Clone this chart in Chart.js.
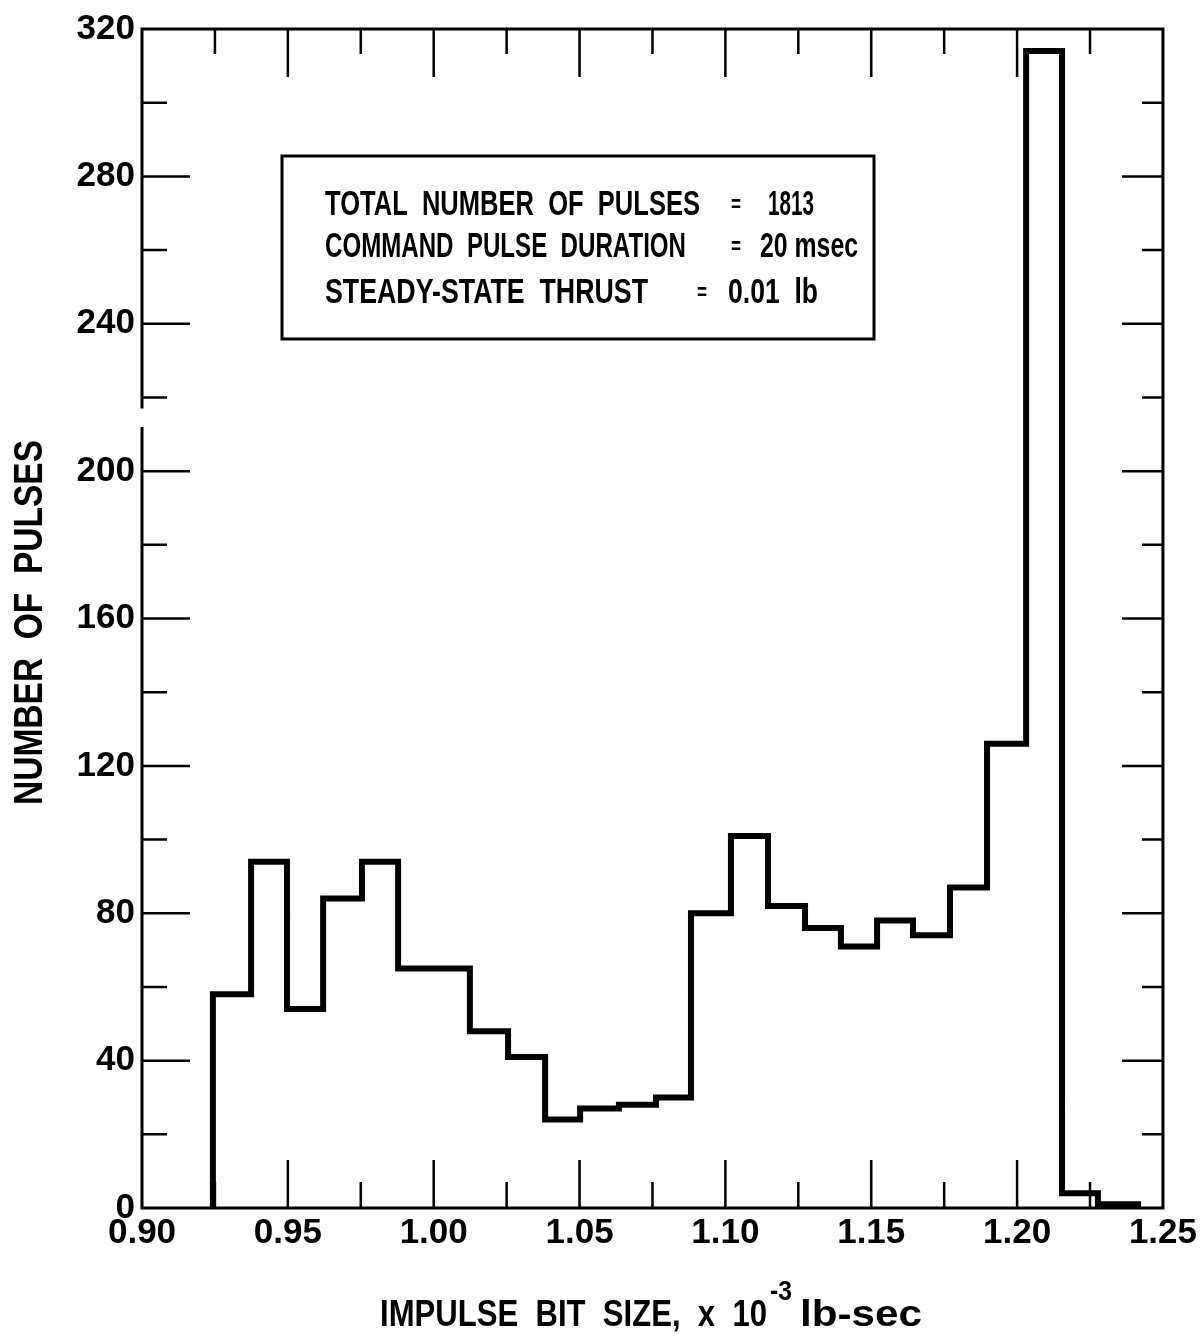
<!DOCTYPE html>
<html lang="en">
<head>
<meta charset="UTF-8" />
<title>Impulse bit size distribution</title>
<script src="https://cdn.jsdelivr.net/npm/chart.js"></script>
<style>
  html, body { margin: 0; padding: 0; background: #fff; }
  #wrap { width: 1201px; height: 1341px; }
</style>
</head>
<body>
<div id="wrap"><canvas id="histChart" width="1201" height="1341"></canvas></div>
<script>
// bin edges (x 10^-3 lb-sec) and counts
const binEdges = [0.9243, 0.9374, 0.9497, 0.9621, 0.9754, 0.9878, 0.9998, 1.0124, 1.0255,
  1.0382, 1.0502, 1.0635, 1.0762, 1.0882, 1.1019, 1.1146, 1.1273, 1.1396, 1.1520,
  1.1643, 1.1770, 1.1897, 1.2031, 1.2154, 1.2277, 1.2415];
const pulseCounts = [58, 94, 54, 84, 94, 65, 65, 48, 41, 24, 27, 28, 30, 80, 101, 82,
  76, 71, 78, 74, 87, 126, 314, 4, 1];

const xTickValues = [0.90, 0.925, 0.95, 0.975, 1.00, 1.025, 1.05, 1.075, 1.10, 1.125,
  1.15, 1.175, 1.20, 1.225, 1.25];
const xTickLabels = ['0.90', '', '0.95', '', '1.00', '', '1.05', '', '1.10', '',
  '1.15', '', '1.20', '', '1.25'];
const yTickValues = [0, 20, 40, 60, 80, 100, 120, 140, 160, 180, 200, 220, 240, 260, 280, 300, 320];
const yTickLabels = ['0', '', '40', '', '80', '', '120', '', '160', '', '200', '', '240', '', '280', '', '320'];

const infoLines = [
  ['TOTAL  NUMBER  OF  PULSES', '1813'],
  ['COMMAND  PULSE  DURATION', '20 msec'],
  ['STEADY-STATE  THRUST', '0.01  lb']
];

// outline of the histogram: up at the first edge, step along, down at the last edge
const outline = [{ x: binEdges[0], y: 0 }];
pulseCounts.forEach((c, i) => outline.push({ x: binEdges[i], y: c }));
outline.push({ x: binEdges[binEdges.length - 1], y: 0 });

const FONT = '"Liberation Sans", Arial, sans-serif';

// draws text squeezed/stretched to a given width (the original uses narrow lettering)
function fitText(ctx, str, x, yMid, size, width) {
  ctx.save();
  ctx.font = 'bold ' + size + 'px ' + FONT;
  ctx.textBaseline = 'middle';
  ctx.textAlign = 'left';
  const w = ctx.measureText(str).width;
  ctx.translate(x, yMid);
  ctx.scale(width / w, 1);
  ctx.fillText(str, 0, 0);
  ctx.restore();
}

const framePlugin = {
  id: 'frame',
  afterDraw(chart) {
    const ctx = chart.ctx;
    const ca = chart.chartArea;
    const xs = chart.scales.x, ys = chart.scales.y;
    ctx.save();
    ctx.strokeStyle = '#000';
    ctx.fillStyle = '#000';
    ctx.lineCap = 'butt';

    // frame, with the small break in the left axis
    ctx.lineWidth = 3;
    ctx.beginPath();
    ctx.moveTo(ca.left, ys.getPixelForValue(212));
    ctx.lineTo(ca.left, ca.bottom);
    ctx.lineTo(ca.right, ca.bottom);
    ctx.lineTo(ca.right, ca.top);
    ctx.lineTo(ca.left, ca.top);
    ctx.lineTo(ca.left, ys.getPixelForValue(217));
    ctx.stroke();

    // inward tick marks on all four sides
    ctx.lineWidth = 2.5;
    ctx.beginPath();
    xTickValues.forEach((v, i) => {
      if (i === 0 || i === xTickValues.length - 1) return;
      const px = xs.getPixelForValue(v);
      const major = xTickLabels[i] !== '';
      ctx.moveTo(px, ca.bottom);
      ctx.lineTo(px, ca.bottom - (major ? 48 : 26));
      ctx.moveTo(px, ca.top);
      ctx.lineTo(px, ca.top + (major ? 48 : 25));
    });
    yTickValues.forEach((v, i) => {
      if (i === 0 || i === yTickValues.length - 1) return;
      const py = ys.getPixelForValue(v);
      const major = yTickLabels[i] !== '';
      ctx.moveTo(ca.left, py);
      ctx.lineTo(ca.left + (major ? 48 : 25), py);
      ctx.moveTo(ca.right, py);
      ctx.lineTo(ca.right - (major ? 41 : 21), py);
    });
    ctx.stroke();

    // info box
    ctx.lineWidth = 3;
    ctx.strokeRect(282, 156, 592, 183);
    const rows = [
      { y: 205, l: 700, eq: 736, v0: 768, v1: 814 },
      { y: 247, l: 686, eq: 736, v0: 760, v1: 858 },
      { y: 293, l: 648, eq: 702, v0: 728, v1: 818 }
    ];
    infoLines.forEach((ln, i) => {
      const r = rows[i];
      fitText(ctx, ln[0], 325, r.y, 35, r.l - 325);
      fitText(ctx, '=', r.eq - 5, r.y, 24, 10);
      fitText(ctx, ln[1], r.v0, r.y, 35, r.v1 - r.v0);
    });

    // axis titles
    fitText(ctx, 'IMPULSE  BIT  SIZE,  x  10', 380, 1316, 37, 387);
    fitText(ctx, '-3', 770, 1293, 27, 22);
    fitText(ctx, 'lb-sec', 800, 1316, 37, 122);

    ctx.save();
    ctx.translate(31, 805);
    ctx.rotate(-Math.PI / 2);
    fitText(ctx, 'NUMBER  OF  PULSES', 0, 0, 40, 365);
    ctx.restore();

    ctx.restore();
  }
};

new Chart(document.getElementById('histChart').getContext('2d'), {
  type: 'line',
  data: {
    datasets: [{
      data: outline,
      stepped: 'before',
      borderColor: '#000',
      borderWidth: 6,
      borderJoinStyle: 'miter',
      pointRadius: 0,
      fill: false
    }]
  },
  options: {
    responsive: false,
    animation: false,
    layout: { padding: { top: 29, right: 38, left: 0, bottom: 0 } },
    plugins: { legend: { display: false }, tooltip: { enabled: false } },
    scales: {
      x: {
        type: 'linear', min: 0.90, max: 1.25,
        afterBuildTicks: s => { s.ticks = xTickValues.map(v => ({ value: v })); },
        afterFit: s => { s.height = 133; },
        grid: { display: false, drawTicks: false },
        border: { display: false },
        ticks: {
          autoSkip: false, maxRotation: 0, padding: 4, color: '#000',
          font: { family: FONT, weight: 'bold', size: 35 },
          callback: (v, i) => xTickLabels[i]
        }
      },
      y: {
        min: 0, max: 320,
        afterBuildTicks: s => { s.ticks = yTickValues.map(v => ({ value: v })); },
        afterFit: s => { s.width = 142; },
        grid: { display: false, drawTicks: false },
        border: { display: false },
        ticks: {
          autoSkip: false, padding: 7, color: '#000',
          font: { family: FONT, weight: 'bold', size: 35 },
          callback: (v, i) => yTickLabels[i]
        }
      }
    }
  },
  plugins: [framePlugin]
});
</script>
</body>
</html>
